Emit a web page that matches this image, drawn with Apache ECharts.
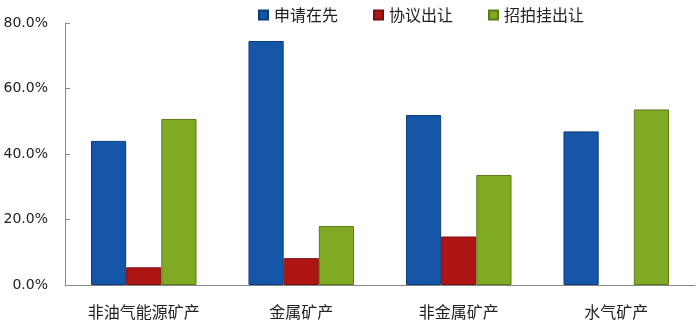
<!DOCTYPE html>
<html><head><meta charset="utf-8">
<script src="https://cdn.jsdelivr.net/npm/echarts@6/dist/echarts.min.js"></script>
<style>html,body{margin:0;padding:0;background:#fff}#c{width:700px;height:329px}</style>
</head><body><div id="c"></div>
<script>
const categories = ['非油气能源矿产', '金属矿产', '非金属矿产', '水气矿产'];
const seriesNames = ['申请在先', '协议出让', '招拍挂出让'];
const applyFirst = [44.0, 74.5, 51.9, 46.9];
const agreement = [5.4, 8.2, 14.8, null];
const auction = [50.7, 18.0, 33.6, 53.6];
const yTicks = [0, 20, 40, 60, 80];

const colors = ['#1556A8', '#B01515', '#80AA23'];
const borders = ['#0D3C7A', '#7A0E0E', '#5B7A17'];
const data = [applyFirst, agreement, auction];

const chart = echarts.init(document.getElementById('c'));
chart.setOption({
  animation: false,
  grid: { left: 65, right: 5, top: 23, bottom: 44 },
  legend: {
    data: seriesNames,
    left: 258, top: 7, padding: 0,
    itemWidth: 9, itemHeight: 9, itemGap: 35,
    icon: 'rect',
    textStyle: { fontSize: 16, color: '#222', fontFamily: 'Noto Sans CJK SC', padding: [0, 0, 0, 1] }
  },
  xAxis: {
    type: 'category', data: categories,
    axisLine: { lineStyle: { color: '#888', width: 1 } },
    axisTick: { inside: true, length: 5, lineStyle: { color: '#888' } },
    axisLabel: { fontSize: 16, color: '#222', margin: 19, fontFamily: 'Noto Sans CJK SC' }
  },
  yAxis: {
    type: 'value', min: yTicks[0], max: yTicks[yTicks.length - 1], interval: 20,
    splitLine: { show: false },
    axisLine: { show: true, lineStyle: { color: '#888', width: 1 } },
    axisTick: { show: true, inside: true, length: 5, lineStyle: { color: '#888' } },
    axisLabel: { fontSize: 14, color: '#222', margin: 17, fontFamily: 'DejaVu Sans',
      formatter: v => v.toFixed(1) + '%' }
  },
  series: seriesNames.map((n, i) => ({
    name: n, type: 'bar', data: data[i],
    barGap: '0%', barCategoryGap: '33%',
    itemStyle: { color: colors[i], borderColor: borders[i], borderWidth: 1 }
  }))
});
</script></body></html>
